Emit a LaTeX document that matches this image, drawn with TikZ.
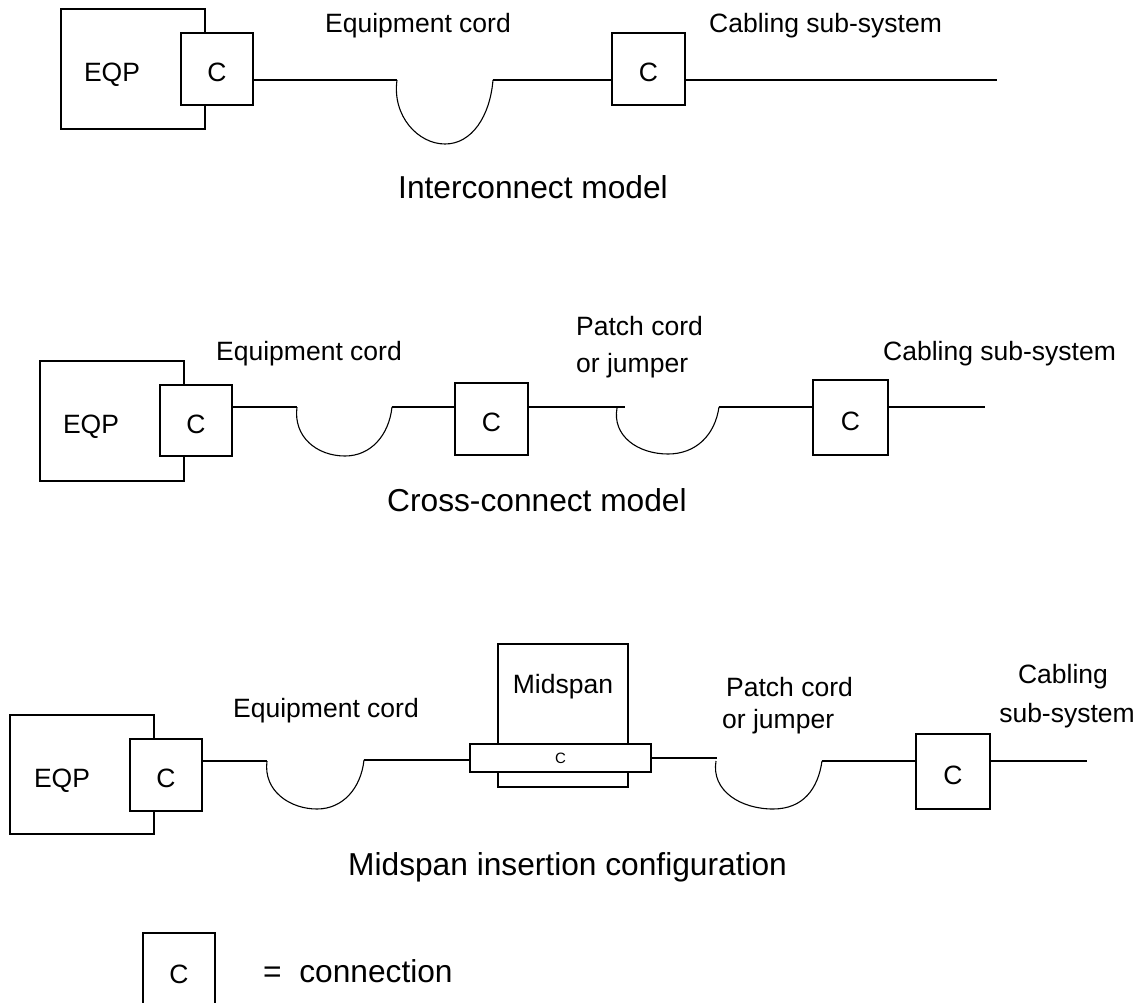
\documentclass[tikz,border=0pt]{standalone}
\usepackage{fontspec}
\setmainfont{Liberation Sans}
\newcommand\lblfont{\fontsize{26.5}{30}\selectfont}
\newcommand\capfont{\fontsize{31.7}{36}\selectfont}
\newcommand\barfont{\fontsize{15}{18}\selectfont}
\begin{document}
\begin{tikzpicture}[x=1pt,y=-1pt,
  box/.style={draw, line width=2pt, fill=white, inner sep=0pt, font=\lblfont, text height=25.5pt, text depth=0pt},
  wire/.style={line width=2pt},
  cord/.style={line width=1.1pt},
  lbl/.style={inner sep=0pt, font=\lblfont},
  captxt/.style={inner sep=0pt, font=\capfont}]
\useasboundingbox (0,0) rectangle (1145,1003);

% ---------------- Interconnect model ----------------
\node[box, minimum width=144pt, minimum height=120pt] (eqpA) at (133,69) {};
\node[lbl, anchor=base] (eqpAl) at (112,82) {EQP};
\node[box, minimum width=72pt, minimum height=72pt] (cA1) at (217,69) {C};
\node[box, minimum width=73pt, minimum height=72pt] (cA2) at (648.5,69) {C};
\coordinate (lA1) at (397,80);
\coordinate (bA1) at (445,144);
\coordinate (rA1) at (493,80);
\coordinate (endA) at (997,80);
\draw[wire] (cA1.east |- lA1) -- (lA1);
\draw[cord] (lA1) .. controls +(-5,36) and +(-27,0) .. (bA1)
                  .. controls +(27,0) and +(-3,36) .. (rA1);
\draw[wire] (rA1) -- (cA2.west |- rA1);
\draw[wire] (cA2.east |- endA) -- (endA);
\node[lbl, anchor=base west] (ecA) at (325,33) {Equipment cord};
\node[lbl, anchor=base west] (csA) at (709,33) {Cabling sub-system};
\node[captxt, anchor=base west] (capA) at (398,198) {Interconnect model};

% ---------------- Cross-connect model ----------------
\node[box, minimum width=144pt, minimum height=120pt] (eqpB) at (112,421) {};
\node[lbl, anchor=base] (eqpBl) at (91,433) {EQP};
\node[box, minimum width=72pt, minimum height=71pt] (cB1) at (196,420.5) {C};
\node[box, minimum width=73pt, minimum height=72pt] (cB2) at (491.5,419) {C};
\node[box, minimum width=75pt, minimum height=75pt] (cB3) at (850.5,417.5) {C};
\coordinate (lB1) at (297,407);
\coordinate (bB1) at (345,456);
\coordinate (rB1) at (392,407);
\coordinate (jB2) at (625,407);
\coordinate (lB2) at (617,408);
\coordinate (bB2) at (668,454);
\coordinate (rB2) at (719,407);
\coordinate (endB) at (985,407);
\draw[wire] (cB1.east |- lB1) -- (lB1);
\draw[cord] (lB1) .. controls +(-4,30) and +(-28,0) .. (bB1)
                  .. controls +(26,0) and +(-3,28) .. (rB1);
\draw[wire] (rB1) -- (cB2.west |- rB1);
\draw[wire] (cB2.east |- jB2) -- (jB2);
\draw[cord] (lB2) .. controls +(-5,28) and +(-30,0) .. (bB2)
                  .. controls +(28,0) and +(-4,28) .. (rB2);
\draw[wire] (rB2) -- (cB3.west |- rB2);
\draw[wire] (cB3.east |- endB) -- (endB);
\node[lbl, anchor=base west] (ecB) at (216,360) {Equipment cord};
\node[lbl, anchor=base west] (pcB1) at (576,335) {Patch cord};
\node[lbl, anchor=base west] (pcB2) at (576,372) {or jumper};
\node[lbl, anchor=base west] (csB) at (883,360) {Cabling sub-system};
\node[captxt, anchor=base west] (capB) at (387,511) {Cross-connect model};

% ---------------- Midspan insertion configuration ----------------
\node[box, minimum width=144pt, minimum height=119pt] (eqpC) at (82,774.5) {};
\node[lbl, anchor=base] (eqpCl) at (62,787) {EQP};
\node[box, minimum width=72pt, minimum height=72pt] (cC1) at (166,775) {C};
\node[box, minimum width=130pt, minimum height=143pt] (msp) at (563,715.5) {};
\node[lbl, anchor=base] (mspl) at (563,693) {Midspan};
\node[box, minimum width=181pt, minimum height=28pt, font=\barfont, text height=11pt] (bar) at (560.5,758) {C};
\node[box, minimum width=74pt, minimum height=75pt] (cC2) at (953,771.5) {C};
\coordinate (lC1) at (267,761);
\coordinate (bC1) at (317,809);
\coordinate (rC1) at (364,760);
\coordinate (jC2) at (717,758);
\coordinate (lC2) at (716,761);
\coordinate (bC2) at (773,809);
\coordinate (rC2) at (822,761);
\coordinate (endC) at (1087,761);
\draw[wire] (cC1.east |- lC1) -- (lC1);
\draw[cord] (lC1) .. controls +(-4,30) and +(-27,0) .. (bC1)
                  .. controls +(26,0) and +(-3,28) .. (rC1);
\draw[wire] (rC1) -- (bar.west |- rC1);
\draw[wire] (bar.east |- jC2) -- (jC2);
\draw[cord] (lC2) .. controls +(-5,30) and +(-32,0) .. (bC2)
                  .. controls +(30,0) and +(-4,28) .. (rC2);
\draw[wire] (rC2) -- (cC2.west |- rC2);
\draw[wire] (cC2.east |- endC) -- (endC);
\node[lbl, anchor=base west] (ecC) at (233,717) {Equipment cord};
\node[lbl, anchor=base west] (pcC1) at (726,696) {Patch cord};
\node[lbl, anchor=base west] (pcC2) at (722,728) {or jumper};
\node[lbl, anchor=base] (csC1) at (1063,683) {Cabling};
\node[lbl, anchor=base] (csC2) at (1067,722) {sub-system};
\node[captxt, anchor=base west] (capC) at (348,875) {Midspan insertion configuration};

% ---------------- Legend (box runs off the bottom edge) ----------------
\node[lbl, minimum width=72pt, minimum height=76pt, text height=25.5pt, text depth=0pt, outer sep=0pt] (leg) at (179,971) {C};
\coordinate (legbot) at (0,1004);
\draw[wire] (leg.west |- legbot) |- (leg.north east) -- (leg.east |- legbot);
\node[captxt, anchor=base west] (legt) at (263,982) {=\ \ connection};
\end{tikzpicture}
\end{document}
